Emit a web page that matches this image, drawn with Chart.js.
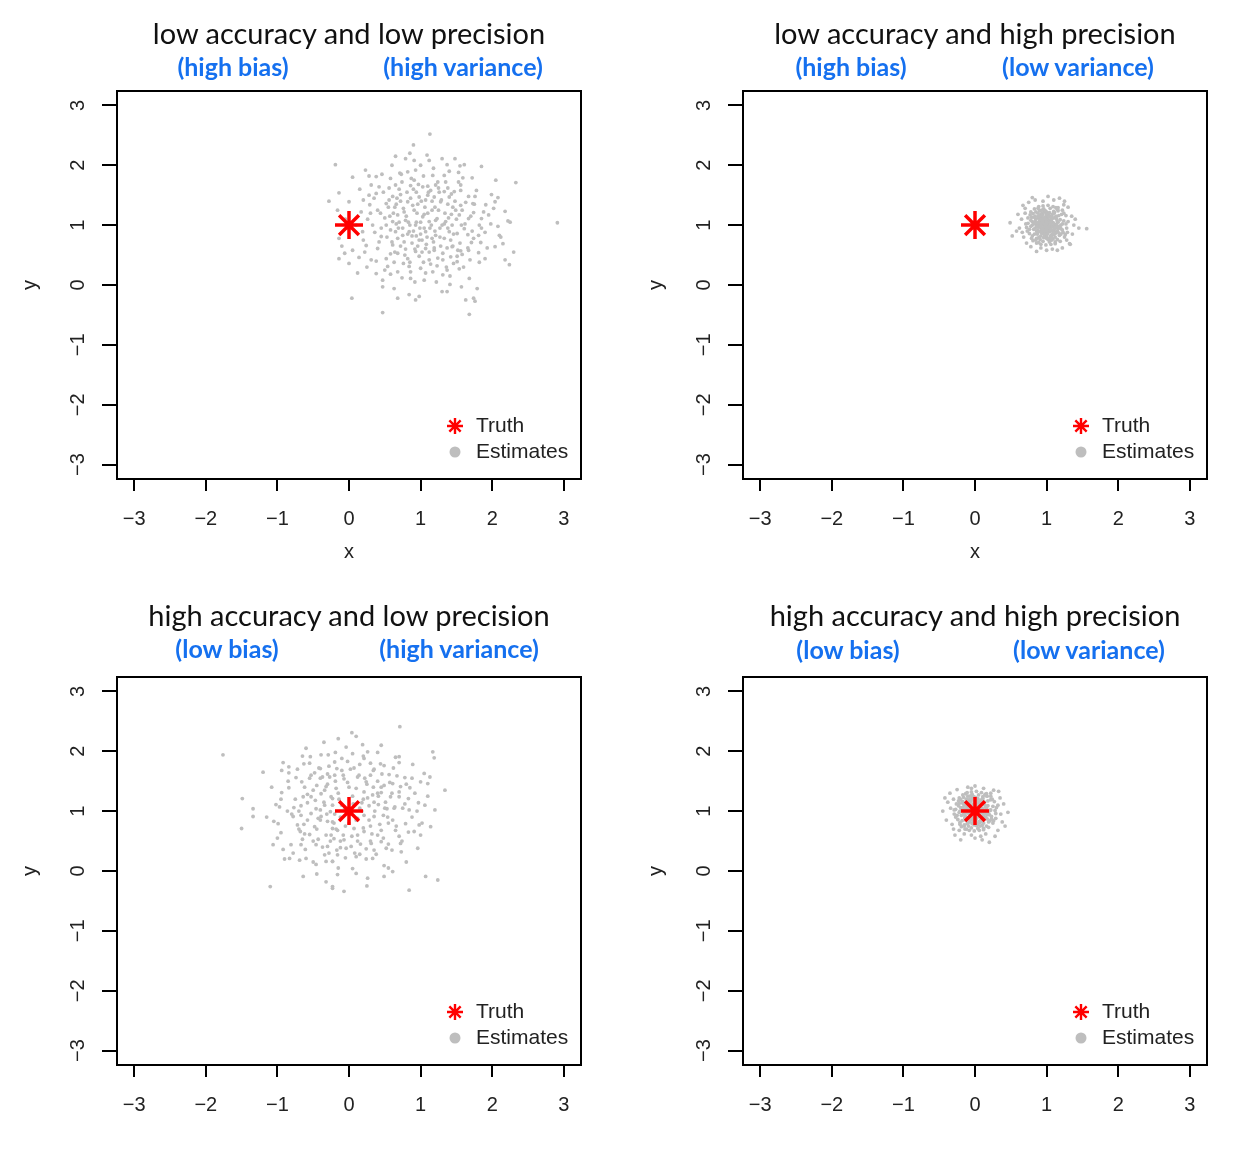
<!DOCTYPE html>
<html>
<head>
<meta charset="utf-8">
<script src="https://cdn.jsdelivr.net/npm/chart.js@4.4.0/dist/chart.umd.min.js"></script>
<style>
    body { margin: 0; background: #fff; width: 1249px; height: 1155px; position: relative; overflow: hidden; }
    .panel { position: absolute; width: 624px; }
    .panel canvas { position: absolute; left: 0; top: 0; }
    .ttl { position: absolute; transform: translate(-50%, -50%); white-space: nowrap;
           font-family: Lato, sans-serif; font-size: 29px; color: #111; }
    .sub { position: absolute; transform: translate(-50%, -50%); white-space: nowrap;
           font-family: Lato, sans-serif; font-weight: bold; font-size: 25px; color: #1570ef; }
</style>
</head>
<body>
<div id="panels"></div>
<script>
// axis ticks shared by all four panels
const tickValues = [-3, -2, -1, 0, 1, 2, 3];
const axisMin = -3.24;
const axisMax = 3.24;

const panelTitles = [
    'low accuracy and low precision',
    'low accuracy and high precision',
    'high accuracy and low precision',
    'high accuracy and high precision'
];
const biasLabels = ['(high bias)', '(high bias)', '(low bias)', '(low bias)'];
const varianceLabels = ['(high variance)', '(low variance)', '(high variance)', '(low variance)'];

const truthPoint = [0, 1];

// Estimates, panel by panel
const estimatesLowAccLowPrec = [
    [1.13,2.52],[0.90,2.34],[0.65,2.15],[0.79,2.11],[0.91,2.08],[1.09,2.17],[1.12,2.08],[1.30,2.11],[-0.19,2.01],[0.23,1.92],
    [0.28,1.82],[0.38,1.81],[0.58,1.78],[0.71,1.87],[0.82,1.89],[0.93,1.92],[1.00,2.00],[1.17,1.83],[1.33,1.83],[0.65,1.67],
    [0.91,1.75],[1.03,1.64],[1.21,1.67],[1.33,1.56],[0.42,1.64],[0.31,1.67],[-0.14,1.54],[-0.28,1.40],[0.00,1.39],[0.20,1.42],
    [0.38,1.53],[0.29,1.34],[0.40,1.25],[0.61,1.48],[0.72,1.51],[0.82,1.39],[0.89,1.33],[0.98,1.47],[1.07,1.42],[1.19,1.47],
    [1.28,1.39],[1.40,1.47],[0.52,1.36],[0.17,1.22],[-0.16,1.25],[0.26,1.10],[0.33,1.00],[0.19,0.89],[-0.14,0.78],[0.45,0.81],
    [0.52,1.00],[0.65,0.89],[0.75,0.83],[0.84,0.89],[0.93,1.00],[0.79,1.08],[0.68,1.17],[0.61,1.06],[1.03,1.14],[1.12,1.06],
    [1.23,1.11],[1.35,1.06],[1.07,0.89],[1.21,0.83],[1.33,0.78],[0.98,0.75],[0.61,0.67],[0.40,0.61],[0.24,0.66],[-0.06,0.53],
    [0.05,0.58],[-0.14,0.44],[0.00,0.36],[0.14,0.46],[0.31,0.42],[0.52,0.44],[0.68,0.53],[0.82,0.44],[0.93,0.56],[1.07,0.61],
    [1.19,0.58],[1.31,0.53],[1.12,0.42],[0.38,0.19],[0.54,0.31],[0.68,0.22],[0.84,0.31],[1.00,0.28],[1.17,0.22],[1.31,0.17],
    [0.86,0.11],[1.05,0.08],[0.47,0.08],[0.63,-0.06],[0.47,-0.03],[0.84,-0.16],[0.98,-0.19],[0.68,-0.22],[0.04,-0.22],[1.30,-0.11],
    [0.47,-0.46],[0.93,-0.25],
    [1.48,2.11],[1.37,2.01],[1.55,1.99],[1.61,2.01],[1.85,1.98],[1.53,1.88],[1.59,1.79],[1.72,1.79],[2.33,1.71],[1.56,1.67],
    [1.47,1.56],[1.56,1.58],[1.67,1.48],[1.76,1.48],[1.99,1.51],[2.08,1.46],[2.04,1.39],[1.56,1.33],[1.73,1.36],[1.91,1.34],
    [2.18,1.23],[1.74,1.21],[1.43,1.18],[1.54,1.17],[1.67,1.11],[1.85,1.11],[1.95,1.17],[2.22,1.07],[2.91,1.04],[1.82,1.00],
    [1.44,1.00],[1.61,0.94],[2.08,0.98],[1.40,0.89],[1.51,0.86],[1.72,0.90],[1.90,0.88],[2.10,0.83],[1.81,0.83],[1.71,0.71],
    [1.84,0.71],[2.04,0.64],[2.15,0.69],[1.44,0.64],[1.56,0.57],[1.67,0.58],[1.81,0.54],[1.42,0.47],[1.58,0.51],[1.90,0.44],
    [1.69,0.42],[2.18,0.42],[2.24,0.34],[1.51,0.39],[1.54,0.27],[1.37,0.25],[1.68,0.11],[1.41,0.01],[1.57,-0.03],[1.79,-0.06],
    [1.37,-0.11],[1.63,-0.25],[1.74,-0.22],[1.76,-0.27],[1.68,-0.49],
    [0.62,1.20],[0.70,1.05],[0.75,0.95],[0.80,1.15],[0.85,1.00],[0.90,0.90],[0.95,1.20],[1.00,1.05],[1.05,0.95],[1.10,1.20],
    [1.15,1.00],[1.20,0.90],[1.25,1.25],[0.68,0.78],[0.72,0.65],[0.88,0.70],[0.92,0.60],[1.02,0.75],[1.08,0.68],[1.18,0.72],
    [1.28,0.65],[1.38,0.95],[1.42,0.75],[0.58,0.92],[0.55,1.30],[0.66,1.35],[0.76,1.28],[0.86,1.45],[0.96,1.35],[1.06,1.30],
    [1.16,1.40],[1.26,1.55],[1.34,1.20],[0.64,0.55],[0.78,0.50],[0.98,0.48],[1.12,0.55],[1.24,0.45],[0.70,1.60],[0.90,1.60],
    [1.10,1.65],[1.00,0.85],[0.82,0.85],[1.30,1.00],[0.60,0.72],[0.50,1.12],[0.45,0.95],[1.45,1.30],[1.50,1.10],[1.55,0.70],
    [0.35,1.45],[0.48,1.55],[0.56,1.62],[0.74,1.72],[0.86,1.66],[1.14,1.58],[1.24,1.72],[1.38,1.62],[1.48,1.40],[1.58,1.25],
    [1.62,1.02],[1.66,0.84],[1.52,0.58],[1.46,0.36],[1.36,0.30],[1.04,0.38],[0.76,0.36],[0.58,0.52],[0.42,0.72],[0.36,0.88],
    [0.44,1.20],[0.56,1.42],[0.66,1.02],[0.77,0.72],[0.94,0.82],[1.16,0.78],[1.27,0.95],[1.38,1.35],[1.10,1.50],[0.94,1.55],
    [0.72,1.40],[0.64,1.30],[1.20,1.30],[1.45,0.65],[0.86,0.22],[1.22,0.05],[0.58,0.18],[0.25,0.30],[1.75,1.35],[1.85,0.95],
    [0.15,1.60],[0.22,0.55],[0.30,1.20],[0.38,0.40],[0.46,1.85],[0.50,0.25],[0.53,0.80],[0.57,1.15],[0.60,2.00],[0.63,0.38],
    [0.67,1.45],[0.69,0.95],[0.73,1.85],[0.74,0.12],[0.77,1.22],[0.79,0.60],[0.81,1.55],[0.83,1.05],[0.85,0.38],[0.87,1.78],
    [0.88,0.82],[0.91,1.25],[0.92,0.05],[0.94,1.05],[0.96,0.65],[0.97,1.68],[0.99,0.95],[1.01,1.40],[1.02,0.55],[1.04,1.82],
    [1.05,1.18],[1.07,0.20],[1.09,0.80],[1.11,1.55],[1.13,0.95],[1.14,0.35],[1.16,1.25],[1.18,1.95],[1.19,0.62],[1.21,1.08],
    [1.23,0.32],[1.25,1.62],[1.27,0.80],[1.29,1.42],[1.31,0.42],[1.33,1.02],[1.35,1.72],[1.37,0.62],[1.39,1.12],[1.41,0.15],
    [1.43,1.52],[1.46,0.85],[1.49,1.25],[1.51,0.48],[1.53,1.72],[1.57,1.00],[1.60,0.30],[1.63,1.38],[1.66,0.62],[1.70,1.15],
    [1.74,0.78],[1.78,1.58],[1.82,0.38],[1.88,1.22],[1.93,0.62],[1.98,1.02],[2.02,1.28],[2.12,0.80],[2.25,1.05],[0.10,1.00],
    [0.20,0.75],[0.28,1.50],[0.12,0.20],[0.05,1.80],[-0.05,1.10],[-0.10,0.65],[2.30,0.55],[2.05,1.75],[0.85,2.20],[1.40,1.90]
];

const estimatesLowAccHighPrec = [
    [1.00,1.00],[0.95,1.03],[1.05,0.97],[0.98,1.08],[1.03,0.92],[0.92,0.96],[1.09,1.04],[0.97,0.90],[1.02,1.12],[0.90,1.07],
    [1.11,0.93],[0.94,1.13],[1.07,1.10],[0.88,0.92],[1.13,1.00],[1.00,0.87],[0.96,0.99],[1.04,1.05],[1.01,0.95],[0.99,1.04],
    [0.93,1.01],[1.06,1.01],[0.97,0.94],[1.03,1.07],[0.91,0.89],[1.10,1.12],[0.86,1.02],[1.14,0.96],[0.99,1.15],[1.01,0.85],
    [0.89,1.12],[1.12,0.88],[0.95,0.86],[1.05,1.14],[0.87,0.97],[1.15,1.06],[1.08,0.90],[0.92,1.10],[1.00,1.10],[1.00,0.92],
    [0.98,0.97],[1.02,1.02],[0.94,1.06],[1.06,0.94],[0.91,1.04],[1.09,0.98],[1.04,0.89],[0.96,1.11],
    [0.80,1.00],[1.20,1.00],[1.00,1.22],[1.00,0.78],[0.84,1.15],[1.17,1.16],[0.83,0.85],[1.18,0.83],[0.78,1.08],[1.22,0.92],
    [0.90,1.24],[1.10,1.23],[0.91,0.76],[1.09,0.77],[0.76,0.93],[1.24,1.07],[0.85,1.22],[1.16,1.24],[0.86,0.78],[1.15,0.76],
    [0.81,1.19],[1.21,1.18],[0.80,0.82],[1.20,0.85],[0.96,1.27],[1.05,1.28],[0.95,0.73],[1.04,0.72],[0.74,1.03],[1.27,1.02],
    [0.88,1.28],[1.13,1.29],[0.89,0.71],[1.12,0.72],[0.72,0.96],[1.28,0.95],[0.82,0.93],[1.19,1.09],[0.93,1.19],[1.07,0.80],
    [0.79,1.13],[1.23,0.88],[0.87,0.88],[1.13,1.13],[0.97,0.81],[1.03,1.19],[0.84,1.06],[1.16,0.94],
    [0.67,1.33],[1.02,1.48],[1.56,0.94],[0.86,0.56],[1.32,0.69],[0.49,1.04],[0.52,0.82],[0.70,1.20],[1.30,1.30],[0.68,0.80],
    [1.35,1.15],[0.75,1.38],[1.25,1.40],[0.78,0.64],[1.22,0.62],[0.62,0.95],[1.38,1.00],[0.95,1.40],[1.10,1.42],[0.92,0.62],
    [1.08,0.60],[0.65,1.10],[1.36,0.85],[0.72,0.70],[1.28,0.75],[0.60,1.18],[1.40,1.10],[0.84,1.42],[1.18,1.45],[1.00,0.58],
    [0.58,0.90],[1.45,0.95],[0.70,1.28],[1.33,0.68],[1.15,0.58],[0.80,1.46],[1.24,1.34],[0.66,0.88],
    [0.99,1.01],[1.01,0.99],[0.96,1.05],[1.04,0.95],[0.93,0.94],[1.07,1.06],[0.98,1.12],[1.02,0.88],[0.89,1.00],[1.11,1.00],
    [0.94,0.91],[1.06,1.09],[0.91,1.09],[1.09,0.91],[1.00,1.18],[1.00,0.82],[0.85,1.10],[1.15,0.90],[0.87,0.85],[1.13,1.15],
    [0.82,1.02],[1.18,0.98],[0.95,1.20],[1.05,0.80],[0.92,0.82],[1.08,1.18],[0.84,0.95],[1.16,1.05],[0.97,1.23],[1.03,0.77],
    [0.90,1.16],[1.10,0.84],[0.86,0.90],[1.14,1.10],[0.93,1.25],[1.07,0.75],[0.80,1.06],[1.20,0.94],[0.88,1.20],[1.12,0.80],
    [0.97,1.02],[1.03,0.98],[0.95,0.95],[1.05,1.05],[0.92,1.03],[1.08,0.97],[1.01,1.08],[0.99,0.92],[0.90,0.97],[1.10,1.03],
    [0.94,1.17],[1.06,0.83],[0.83,1.13],[1.17,0.87],[0.96,0.79],[1.04,1.21],[0.78,0.98],[1.22,1.02],[0.89,0.79],[1.11,1.21],
    [0.74,1.12],[0.76,0.86],[0.78,1.22],[0.81,0.74],[0.83,1.27],[0.86,0.70],[0.89,1.31],[0.92,0.68],[0.95,1.32],[0.99,0.67],
    [1.02,1.33],[1.06,0.68],[1.09,1.31],[1.12,0.69],[1.16,1.29],[1.19,0.73],[1.22,1.25],[1.25,0.80],[1.27,1.16],[1.29,0.88],
    [1.30,1.06],[0.71,1.02],[0.73,0.90],[0.79,0.78],[0.77,1.17],[1.24,1.20],[1.26,0.84],[0.85,0.75],[1.15,1.26],[0.90,0.80],
    [1.10,1.20],[0.88,1.14],[1.12,0.86],[0.86,0.99],[1.14,1.01],[0.98,1.24],[1.02,0.76],[0.93,0.87],[1.07,1.13],[0.95,1.09],
    [1.05,0.91],[0.83,1.04],[1.17,0.96],[0.92,1.15],[1.08,0.85],[0.97,0.85],[1.03,1.15],[0.88,1.04],[1.12,0.96],[1.00,1.05]
];

const estimatesHighAccLowPrec = [
    [-1.76,1.94],[-0.65,1.92],[-0.54,1.91],[-0.39,1.94],[-0.29,1.94],[-0.63,1.79],[-0.92,1.81],[-0.84,1.74],[-0.94,1.68],[-0.84,1.64],
    [-0.53,1.60],[-0.40,1.71],[-0.48,1.64],[-0.37,1.57],[-0.27,1.57],[-0.74,1.56],[-0.66,1.49],[-0.84,1.39],[-0.94,1.31],[-0.45,1.43],
    [-0.32,1.41],[-0.58,1.28],[-0.64,1.24],[-0.53,1.24],[-0.39,1.29],[-0.25,1.24],[-1.49,1.21],[-1.34,1.04],[-1.34,0.91],[-1.02,1.11],
    [-0.97,1.07],[-0.77,1.06],[-0.67,1.09],[-0.58,1.14],[-0.46,1.04],[-0.34,1.10],[-0.26,0.99],[-0.86,1.00],[-0.78,0.91],[-0.67,0.93],
    [-0.53,0.96],[-0.39,0.91],[-0.30,0.83],[-1.05,0.83],[-0.99,0.79],[-0.72,0.77],[-0.63,0.78],[-0.48,0.74],[-0.23,0.71],[-1.50,0.71],
    [-0.95,0.64],[-0.68,0.66],[-0.55,0.61],[-0.43,0.53],[-0.32,0.60],[-0.65,0.53],[-1.06,0.44],[-0.81,0.44],[-0.67,0.44],[-0.46,0.44],
    [-0.30,0.41],[-0.92,0.36],[-0.61,0.36],[-0.34,0.27],[-0.83,0.21],[-0.69,0.18],[-0.60,0.21],[-0.46,0.11],[-0.32,0.16],[-0.23,0.16],
    [-0.64,-0.09],[-1.10,-0.26],[-0.32,-0.18],[-0.23,-0.29],
    [0.71,2.41],[0.04,2.31],[-0.15,2.21],[-0.04,2.07],[0.19,2.11],[-0.19,1.98],[0.05,1.96],[0.26,1.99],[0.40,1.98],[1.17,1.99],
    [1.19,1.89],[0.70,1.91],[-0.10,1.88],[-0.02,1.83],[0.21,1.88],[0.44,1.79],[0.49,1.76],[0.70,1.81],[0.89,1.78],[-0.17,1.71],
    [0.07,1.72],[0.34,1.68],[0.56,1.61],[0.67,1.59],[0.78,1.56],[1.05,1.63],[1.13,1.57],[1.00,1.49],[1.10,1.46],[-0.20,1.60],
    [-0.07,1.54],[0.12,1.57],[0.24,1.49],[0.40,1.50],[0.49,1.43],[0.61,1.46],[0.72,1.41],[0.85,1.39],[1.34,1.35],[-0.18,1.38],
    [0.21,1.32],[0.33,1.27],[0.45,1.31],[0.58,1.24],[0.70,1.24],[0.83,1.21],[0.97,1.14],[1.06,1.10],[1.20,1.02],[-0.23,1.21],
    [0.18,1.14],[0.28,1.09],[0.41,1.11],[0.53,1.04],[0.64,1.07],[0.84,1.02],[0.21,0.93],[0.35,0.91],[0.48,0.93],[0.61,0.85],
    [0.79,0.79],[0.98,0.77],[1.14,0.74],[-0.23,0.82],[-0.16,0.68],[0.07,0.71],[0.21,0.66],[0.45,0.68],[0.65,0.68],[0.91,0.66],
    [1.00,0.60],[-0.21,0.54],[-0.07,0.52],[0.12,0.50],[0.31,0.46],[0.45,0.49],[0.72,0.46],[-0.12,0.39],[0.03,0.41],[0.24,0.37],
    [0.52,0.38],[0.73,0.32],[0.96,0.38],[-0.16,0.27],[0.10,0.24],[0.33,0.21],[0.49,0.09],[-0.23,0.16],[0.05,0.04],[0.10,-0.04],
    [0.61,-0.01],[-0.16,-0.06],[0.26,-0.12],[1.07,-0.09],[1.24,-0.15],[0.49,-0.09],[-0.23,-0.26],[-0.07,-0.34],[0.84,-0.32],
    [-0.10,1.10],[0.05,1.25],[-0.20,0.95],[0.10,0.85],[-0.05,0.75],[0.15,1.05],[0.30,0.75],[-0.35,1.15],[0.00,1.40],[-0.15,1.30],
    [0.25,1.45],[0.35,1.15],[-0.25,0.60],[0.12,0.60],[0.40,0.60],[-0.40,0.85],[-0.12,0.50],[0.20,1.20],[0.55,0.80],[0.60,1.30],
    [-0.50,1.35],[-0.30,1.45],[0.45,1.40],[0.02,0.95],[-0.08,1.60],[0.30,1.60],
    [-0.55,1.55],[-0.42,1.72],[-0.20,1.82],[0.15,1.78],[0.35,1.70],[0.62,1.72],[0.80,1.45],[0.92,1.30],[0.75,1.05],[0.88,0.90],
    [0.70,0.58],[0.55,0.45],[0.35,0.35],[0.15,0.28],[-0.05,0.22],[-0.28,0.30],[-0.50,0.50],[-0.70,0.70],[-0.80,0.95],[-0.75,1.20],
    [-0.62,1.40],[-0.45,0.70],[-0.58,0.85],[-0.40,1.02],[-0.18,0.70],[0.30,0.50],[0.50,1.05],[0.40,1.30],[-0.30,1.62],[0.20,1.92],
    [-0.85,1.50],[-0.78,0.30],[-0.70,1.00],[-0.62,0.62],[-0.55,1.80],[-0.50,0.15],[-0.47,1.18],[-0.43,0.88],[-0.40,1.55],[-0.37,0.40],
    [-0.34,1.35],[-0.31,0.95],[-0.28,1.75],[-0.26,0.50],[-0.23,1.10],[-0.21,0.80],[-0.19,1.50],[-0.17,0.35],[-0.14,1.20],[-0.12,0.90],
    [-0.10,1.68],[-0.08,0.60],[-0.06,1.05],[-0.04,0.38],[-0.02,1.48],[0.00,0.80],[0.02,1.70],[0.04,0.58],[0.06,1.12],[0.08,0.30],
    [0.10,1.38],[0.12,0.88],[0.14,1.60],[0.16,0.45],[0.18,1.00],[0.20,0.72],[0.22,1.55],[0.24,0.20],[0.26,1.22],[0.28,0.85],
    [0.30,1.80],[0.32,0.62],[0.34,1.40],[0.36,1.00],[0.38,0.28],[0.41,1.25],[0.43,0.78],[0.46,1.62],[0.48,0.55],[0.51,1.15],
    [0.54,0.90],[0.57,1.48],[0.60,0.35],[0.63,1.05],[0.66,0.75],[0.70,1.32],[0.74,0.50],[0.78,1.12],[0.83,0.65],[0.88,1.55],
    [0.95,1.00],[1.02,0.80],[1.10,1.25],[-0.95,1.20],[-1.00,0.55],[-1.08,1.40],[-1.15,0.90],[-1.20,1.65],[-0.90,0.20],[-0.60,2.05],
    [-0.35,2.15],[0.10,2.25],[0.45,2.10],[0.55,0.05],[-0.15,0.05],[-0.45,-0.05],[0.25,-0.25],[0.80,0.15],[-0.72,1.70],[0.65,1.90]
];

const estimatesHighAccHighPrec = [
    [0.00,1.00],[-0.05,1.04],[0.06,0.96],[-0.02,1.09],[0.03,0.91],[-0.09,0.97],[0.10,1.05],[-0.03,0.89],[0.02,1.13],[-0.11,1.08],
    [0.12,0.92],[-0.07,1.14],[0.08,1.11],[-0.13,0.91],[0.14,1.01],[0.01,0.86],[-0.04,0.99],[0.05,1.04],[0.02,0.95],[-0.01,1.05],
    [-0.08,1.02],[0.07,1.00],[-0.03,0.93],[0.04,1.08],[-0.10,0.88],[0.11,1.13],[-0.15,1.03],[0.16,0.96],[-0.01,1.16],[0.01,0.84],
    [-0.12,1.12],[0.13,0.87],[-0.06,0.85],[0.06,1.15],[-0.14,0.96],[0.15,1.07],[0.09,0.89],[-0.09,1.11],[0.00,1.10],[0.00,0.92],
    [-0.21,1.00],[0.21,1.01],[0.01,1.23],[-0.01,0.77],[-0.17,1.16],[0.18,1.17],[-0.18,0.84],[0.19,0.82],[-0.23,1.09],[0.23,0.91],
    [-0.10,1.25],[0.11,1.24],[-0.09,0.75],[0.10,0.76],[-0.25,0.93],[0.25,1.08],[-0.16,1.23],[0.17,1.25],[-0.15,0.77],[0.16,0.75],
    [-0.20,1.19],[0.22,1.19],[-0.21,0.81],[0.21,0.84],[-0.04,1.28],[0.05,1.27],[-0.05,0.72],[0.04,0.71],[-0.27,1.03],[0.28,1.01],
    [-0.13,1.29],[0.14,1.28],[-0.12,0.70],[0.12,0.71],[-0.29,0.95],[0.29,0.96],[-0.19,0.93],[0.18,1.09],[-0.08,1.19],[0.07,0.81],
    [-0.22,1.13],[0.23,0.87],[-0.14,0.88],[0.13,1.14],[-0.03,0.80],[0.03,1.20],[-0.17,1.06],[0.17,0.94],
    [-0.45,1.00],[0.46,0.98],[-0.35,1.30],[0.33,1.33],[-0.30,0.70],[0.32,0.68],[-0.10,1.40],[0.12,1.38],[-0.20,0.52],[0.20,0.48],
    [-0.38,1.15],[0.40,1.12],[-0.40,0.85],[0.38,0.82],[-0.25,1.36],[0.26,1.35],[-0.28,0.60],[0.28,0.58],[0.00,1.42],[0.00,0.55],
    [-0.42,1.22],[0.42,0.75],[-0.32,0.78],[0.35,1.22],[-0.05,0.60],[0.08,0.58],[-0.15,0.62],[0.15,0.62],[-0.34,1.05],[0.36,0.95],
    [-0.05,1.38],[0.22,1.30],[-0.22,0.68],[0.32,1.10],[-0.30,1.20],[0.10,0.52],
    [-0.01,1.01],[0.01,0.99],[-0.04,1.05],[0.04,0.95],[-0.07,0.94],[0.07,1.06],[-0.02,1.12],[0.02,0.88],[-0.11,1.00],[0.11,1.00],
    [-0.06,0.91],[0.06,1.09],[-0.09,1.09],[0.09,0.91],[0.00,1.18],[0.00,0.82],[-0.15,1.10],[0.15,0.90],[-0.13,0.85],[0.13,1.15],
    [-0.18,1.02],[0.18,0.98],[-0.05,1.20],[0.05,0.80],[-0.08,0.82],[0.08,1.18],[-0.16,0.95],[0.16,1.05],[-0.03,1.23],[0.03,0.77],
    [-0.10,1.16],[0.10,0.84],[-0.14,0.90],[0.14,1.10],[-0.07,1.25],[0.07,0.75],[-0.20,1.06],[0.20,0.94],[-0.12,1.20],[0.12,0.80],
    [-0.03,1.02],[0.03,0.98],[-0.05,0.95],[0.05,1.05],[-0.08,1.03],[0.08,0.97],[0.01,1.08],[-0.01,0.92],[-0.10,0.97],[0.10,1.03],
    [-0.06,1.17],[0.06,0.83],[-0.17,1.13],[0.17,0.87],[-0.04,0.79],[0.04,1.21],[-0.22,0.98],[0.22,1.02],[-0.11,0.79],[0.11,1.21],
    [-0.26,1.12],[-0.24,0.86],[-0.22,1.22],[-0.19,0.74],[-0.17,1.27],[-0.14,0.70],[-0.11,1.31],[-0.08,0.68],[-0.05,1.32],[-0.01,0.67],
    [0.02,1.33],[0.06,0.68],[0.09,1.31],[0.12,0.69],[0.16,1.29],[0.19,0.73],[0.22,1.25],[0.25,0.80],[0.27,1.16],[0.29,0.88],
    [0.30,1.06],[-0.29,1.02],[-0.27,0.90],[-0.21,0.78],[-0.23,1.17],[0.24,1.20],[0.26,0.84],[-0.15,0.75],[0.15,1.26],[-0.10,0.80],
    [0.10,1.20],[-0.12,1.14],[0.12,0.86],[-0.14,0.99],[0.14,1.01],[-0.02,1.24],[0.02,0.76],[-0.07,0.87],[0.07,1.13],[-0.05,1.09],
    [0.05,0.91],[-0.17,1.04],[0.17,0.96],[-0.08,1.15],[0.08,0.85],[-0.03,0.85],[0.03,1.15],[-0.12,1.04],[0.12,0.96],[0.00,1.05]
];

const panelEstimates = [
    estimatesLowAccLowPrec,
    estimatesLowAccHighPrec,
    estimatesHighAccLowPrec,
    estimatesHighAccHighPrec
];

// where each panel sits on the page, and where its text goes (panel-relative)
const panelLayout = [
    { left: 0,   top: 0,   height: 586, showX: true,  titleY: 32, subY: 66, biasX: 233, varX: 463 },
    { left: 626, top: 0,   height: 586, showX: true,  titleY: 32, subY: 66, biasX: 225, varX: 452 },
    { left: 0,   top: 586, height: 569, showX: false, titleY: 28, subY: 62, biasX: 227, varX: 459 },
    { left: 626, top: 586, height: 569, showX: false, titleY: 28, subY: 63, biasX: 222, varX: 463 }
];

const AXIS_FONT = { family: "'Liberation Sans', Arial, sans-serif", size: 20 };
const TEXT_COLOR = '#222';
const GREY = '#bebebe';
const RED = '#ff0000';

document.addEventListener('DOMContentLoaded', function () {
    const host = document.getElementById('panels');
    panelLayout.forEach((lay, i) => buildPanel(host, lay, i));
});

function formatTick(v) {
    return v < 0 ? '\u2212' + Math.abs(v) : String(v);
}

// R style box around the plot region
const boxPlugin = {
    id: 'rbox',
    afterDraw(chart) {
        const a = chart.chartArea;
        const ctx = chart.ctx;
        ctx.save();
        ctx.strokeStyle = '#000';
        ctx.lineWidth = 2;
        ctx.strokeRect(a.left, a.top, a.right - a.left, a.bottom - a.top);
        ctx.restore();
    }
};

// y tick labels are turned on their side like R draws them
const yLabelPlugin = {
    id: 'ylabels',
    afterDraw(chart) {
        const scale = chart.scales.y;
        const ctx = chart.ctx;
        ctx.save();
        ctx.font = AXIS_FONT.size + 'px ' + AXIS_FONT.family;
        ctx.fillStyle = TEXT_COLOR;
        ctx.textAlign = 'center';
        ctx.textBaseline = 'middle';
        scale.ticks.forEach(t => {
            const y = scale.getPixelForValue(t.value);
            ctx.save();
            ctx.translate(chart.chartArea.left - 39, y);
            ctx.rotate(-Math.PI / 2);
            ctx.fillText(formatTick(t.value), 0, 0);
            ctx.restore();
        });
        ctx.restore();
    }
};

// small legend in the lower right corner of the plot region
const legendPlugin = {
    id: 'rlegend',
    afterDraw(chart) {
        const a = chart.chartArea;
        const ctx = chart.ctx;
        const sx = a.right - 126;
        const y1 = a.bottom - 53;
        const y2 = a.bottom - 27;
        ctx.save();
        ctx.strokeStyle = RED;
        ctx.fillStyle = RED;
        ctx.lineWidth = 2.4;
        Chart.helpers.drawPoint(ctx, { pointStyle: 'star', radius: 8, borderWidth: 2.4 }, sx, y1);
        ctx.fillStyle = GREY;
        ctx.beginPath();
        ctx.arc(sx, y2, 5.5, 0, Math.PI * 2);
        ctx.fill();
        ctx.font = '21px ' + AXIS_FONT.family;
        ctx.fillStyle = TEXT_COLOR;
        ctx.textAlign = 'left';
        ctx.textBaseline = 'middle';
        chart.data.datasets.forEach((ds, k) => {
            ctx.fillText(ds.label, sx + 21, k === 0 ? y1 : y2);
        });
        ctx.restore();
    }
};

function buildPanel(host, lay, idx) {
    const wrap = document.createElement('div');
    wrap.className = 'panel';
    wrap.style.left = lay.left + 'px';
    wrap.style.top = lay.top + 'px';
    wrap.style.height = lay.height + 'px';
    host.appendChild(wrap);

    const canvas = document.createElement('canvas');
    canvas.width = 624;
    canvas.height = lay.height;
    wrap.appendChild(canvas);

    addText(wrap, 'ttl', panelTitles[idx], 349, lay.titleY);
    addText(wrap, 'sub', biasLabels[idx], lay.biasX, lay.subY);
    addText(wrap, 'sub', varianceLabels[idx], lay.varX, lay.subY);

    new Chart(canvas.getContext('2d'), {
        type: 'scatter',
        data: {
            datasets: [{
                label: 'Truth',
                data: [{ x: truthPoint[0], y: truthPoint[1] }],
                pointStyle: 'star',
                pointRadius: 14,
                borderColor: RED,
                backgroundColor: RED,
                pointBorderWidth: 3.5,
                borderWidth: 3.5
            }, {
                label: 'Estimates',
                data: panelEstimates[idx].map(p => ({ x: p[0], y: p[1] })),
                pointStyle: 'circle',
                pointRadius: 1.9,
                pointBorderWidth: 0,
                borderWidth: 0,
                backgroundColor: GREY,
                borderColor: GREY
            }]
        },
        options: {
            responsive: false,
            animation: false,
            events: [],
            layout: { padding: { top: 91, right: 43, left: 0, bottom: 0 } },
            plugins: {
                legend: { display: false },
                tooltip: { enabled: false }
            },
            scales: {
                x: {
                    type: 'linear',
                    min: axisMin,
                    max: axisMax,
                    afterBuildTicks: s => { s.ticks = tickValues.map(v => ({ value: v })); },
                    afterFit: s => { s.height = lay.height - 479; },
                    border: { display: false },
                    grid: { drawOnChartArea: false, tickLength: 12, color: '#000', lineWidth: 2 },
                    ticks: { padding: 16, font: AXIS_FONT, color: TEXT_COLOR, callback: formatTick, maxRotation: 0, autoSkip: false },
                    title: { display: lay.showX, text: 'x', font: AXIS_FONT, color: TEXT_COLOR, padding: { top: 0, bottom: 22 } }
                },
                y: {
                    type: 'linear',
                    min: axisMin,
                    max: axisMax,
                    afterBuildTicks: s => { s.ticks = tickValues.map(v => ({ value: v })); },
                    afterFit: s => { s.width = 117; },
                    border: { display: false },
                    grid: { drawOnChartArea: false, tickLength: 15, color: '#000', lineWidth: 2 },
                    ticks: { font: AXIS_FONT, color: 'rgba(0,0,0,0)', callback: formatTick, autoSkip: false },
                    title: { display: true, text: 'y', font: AXIS_FONT, color: TEXT_COLOR, padding: { top: 18, bottom: 0 } }
                }
            }
        },
        plugins: [boxPlugin, yLabelPlugin, legendPlugin]
    });
}

function addText(wrap, cls, text, x, y) {
    const d = document.createElement('div');
    d.className = cls;
    d.textContent = text;
    d.style.left = x + 'px';
    d.style.top = y + 'px';
    wrap.appendChild(d);
}
</script>
</body>
</html>
